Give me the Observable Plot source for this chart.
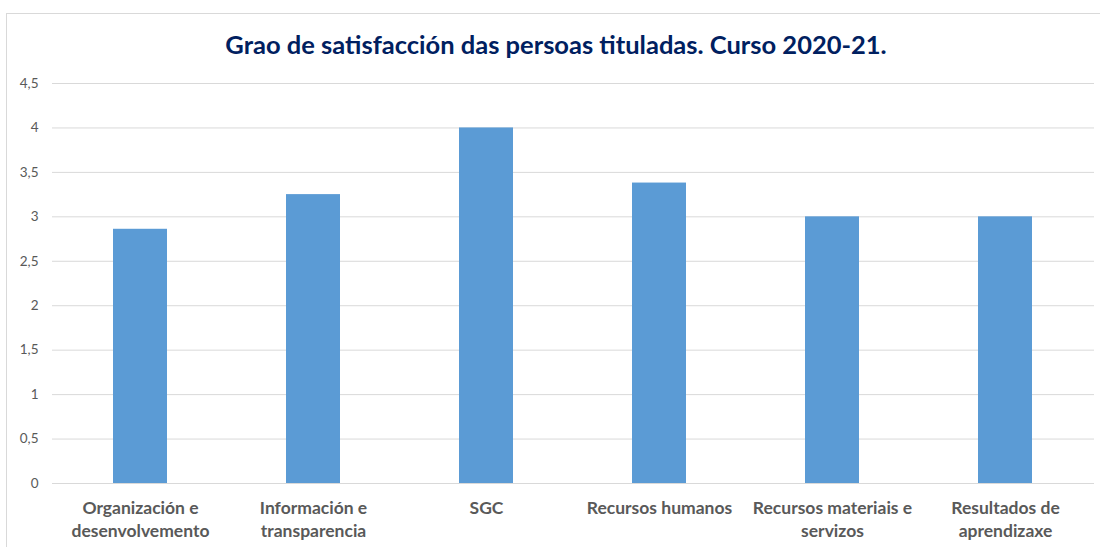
<!DOCTYPE html>
<html>
<head>
<meta charset="utf-8">
<script src="https://cdn.jsdelivr.net/npm/d3@7"></script>
<script src="https://cdn.jsdelivr.net/npm/@observablehq/plot@0.6"></script>
<style>
  html, body { margin: 0; padding: 0; background: #fff; }
  #wrap { position: relative; width: 1100px; height: 547px; overflow: hidden; background: #fff; }
  #frame { position: absolute; left: 6px; top: 13px; width: 1110px; height: 600px; border: 1px solid #d9d9d9; box-sizing: border-box; pointer-events: none; }
  #title { position: relative; height: 60px; font-family: Lato, "Open Sans", sans-serif; font-weight: bold; font-size: 25.5px; color: #002060; }
  #title span { position: absolute; left: 556px; top: 32px; transform: translateX(-50%); white-space: nowrap; line-height: 1; }
  #chart svg { display: block; }
</style>
</head>
<body>
<div id="wrap">
  <div id="frame"></div>
  <div id="title"><span>Grao de satisfacción das persoas tituladas. Curso 2020-21.</span></div>
  <div id="chart"></div>
</div>
<script>
const categories = [
  "Organización e\ndesenvolvemento",
  "Información e\ntransparencia",
  "SGC",
  "Recursos humanos",
  "Recursos materiais e\nservizos",
  "Resultados de\naprendizaxe"
];
const values = [2.86, 3.25, 4.0, 3.38, 3.0, 3.0];
const yTicks = [0, 0.5, 1, 1.5, 2, 2.5, 3, 3.5, 4, 4.5];

const data = categories.map((c, i) => ({category: c, value: values[i]}));

const chart = Plot.plot({
  width: 1100,
  height: 487,
  marginTop: 23,
  marginBottom: 64,
  marginLeft: 52,
  marginRight: 6,
  style: {fontFamily: "Lato, 'Open Sans', sans-serif", background: "transparent"},
  x: {domain: categories, paddingInner: 0.685, paddingOuter: 0.3425, label: null},
  y: {domain: [0, 4.5], label: null},
  marks: [
    Plot.gridY(yTicks, {stroke: "#d9d9d9", strokeOpacity: 1, strokeWidth: 1}),
    Plot.barY(data, {x: "category", y: "value", fill: "#5b9bd5"}),
    Plot.axisY(yTicks, {
      tickSize: 0, tickPadding: 14, fontSize: 13.5, fill: "#595959",
      tickFormat: d => String(d).replace(".", ",")
    }),
    Plot.axisX({
      tickSize: 0, tickPadding: 14, fontSize: 17.5, fontWeight: "bold", fill: "#595959",
      lineHeight: 1.31
    })
  ]
});
document.getElementById("chart").appendChild(chart);
</script>
</body>
</html>
